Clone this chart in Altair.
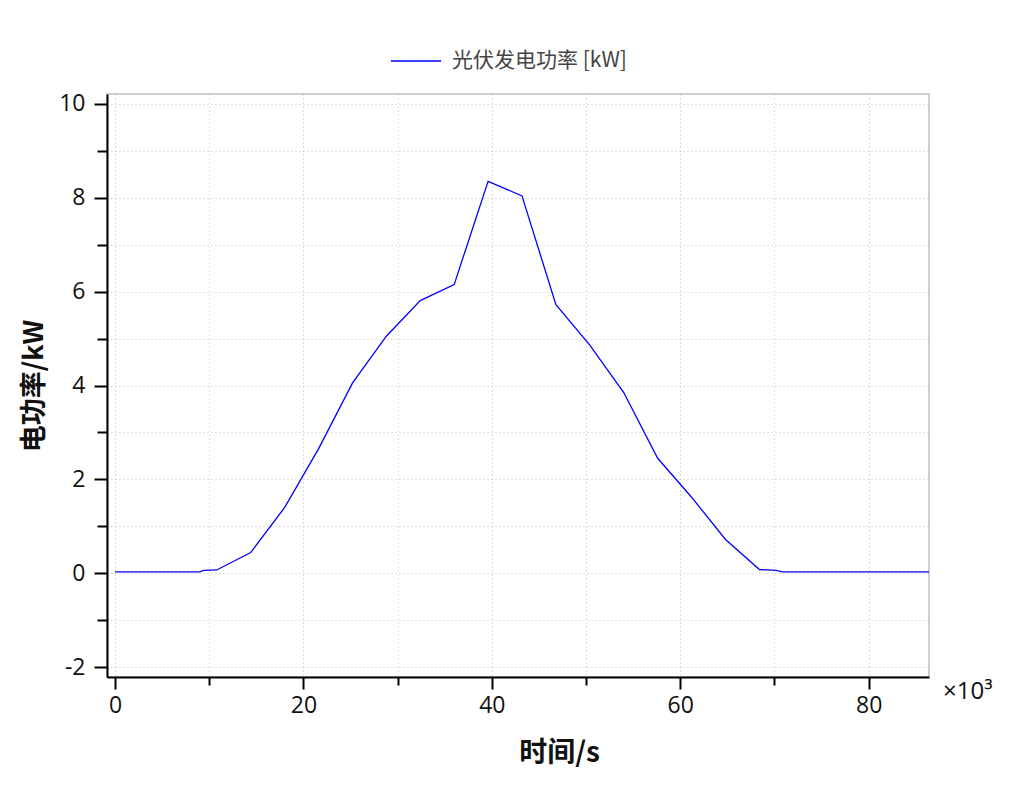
import altair as alt
import pandas as pd

# time in seconds, PV power in kW
time_s = [0, 3600, 7200, 9000, 9400, 10800, 14400, 18000, 21600, 25200, 28800,
          32400, 36000, 39600, 43200, 46800, 50400, 54000, 57600, 61200, 64800,
          68400, 70200, 70800, 72000, 75600, 79200, 82800, 86400]
power_kw = [0.03, 0.03, 0.03, 0.03, 0.06, 0.07, 0.44, 1.40, 2.65, 4.05, 5.05,
            5.81, 6.15, 8.35, 8.04, 5.72, 4.86, 3.85, 2.45, 1.62, 0.72,
            0.08, 0.06, 0.03, 0.03, 0.03, 0.03, 0.03, 0.03]
series_name = "光伏发电功率 [kW]"
x_ticks = [0, 10000, 20000, 30000, 40000, 50000, 60000, 70000, 80000]
y_ticks = [-2, -1, 0, 1, 2, 3, 4, 5, 6, 7, 8, 9, 10]

df = pd.DataFrame({"t": time_s, "p": power_kw, "s": [series_name] * len(time_s)})

FONT = "Open Sans"
CJK = "Noto Sans CJK SC"

line = alt.Chart(df).mark_line(strokeWidth=1.3, clip=True).encode(
    x=alt.X("t:Q",
            scale=alt.Scale(domain=[-850, 86400], nice=False, zero=False),
            axis=alt.Axis(values=x_ticks, title="时间/s",
                          labelExpr="datum.value % 20000 === 0 ? '' + (datum.value/1000) : ''",
                          tickSize=alt.ExprRef("datum.value % 20000 === 0 ? 12 : 8"),
                          grid=True, gridDash=[1, 3], gridColor="#bdbdbd", gridWidth=1,
                          domainColor="#000000", domainWidth=2, tickColor="#000000", tickWidth=2,
                          labelFont=FONT, labelFontSize=23, labelColor="#111111", labelPadding=5,
                          labelFlush=False,
                          titleFont=CJK, titleFontSize=28, titleFontWeight="bold",
                          titleColor="#111111", titlePadding=22, titleX=452)),
    y=alt.Y("p:Q",
            scale=alt.Scale(domain=[-2.21, 10.21], nice=False, zero=False),
            axis=alt.Axis(values=y_ticks, title="电功率/kW",
                          labelExpr="datum.value % 2 === 0 ? '' + datum.value : ''",
                          tickSize=alt.ExprRef("datum.value % 2 === 0 ? 13 : 10"),
                          grid=True, gridDash=[1, 3], gridColor="#bdbdbd", gridWidth=1,
                          domainColor="#000000", domainWidth=2, tickColor="#000000", tickWidth=2,
                          labelFont=FONT, labelFontSize=23, labelColor="#111111", labelPadding=9,
                          titleFont=CJK, titleFontSize=27, titleFontWeight="bold",
                          titleColor="#111111", titlePadding=10)),
    color=alt.Color("s:N", scale=alt.Scale(range=["#0000ff"]),
                    legend=alt.Legend(title=None, orient="none", legendX=283, legendY=-59,
                                      symbolType="stroke", symbolSize=2500, symbolStrokeWidth=1.3,
                                      labelFont=CJK, labelFontSize=21, labelColor="#444444",
                                      labelOffset=10, labelLimit=400)),
)

mult = alt.Chart(pd.DataFrame({"txt": ["×10³"]})).mark_text(
    font=FONT, fontSize=24, align="left", baseline="middle", color="#111111"
).encode(text="txt:N", x=alt.value(836), y=alt.value(598))

chart = alt.layer(line, mult).properties(
    width=822, height=583,
    autosize=alt.AutoSizeParams(type="none"),
    padding={"left": 99, "top": 86, "right": 80, "bottom": 110},
).configure_view(stroke="#cfcfcf", strokeWidth=2)

chart.save("out.html", embed_options={"renderer": "svg", "actions": False})
